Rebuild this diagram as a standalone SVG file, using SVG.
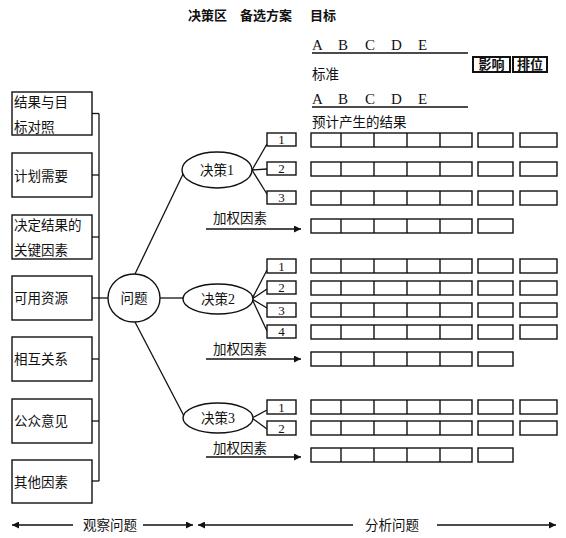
<svg xmlns="http://www.w3.org/2000/svg" width="566" height="538" viewBox="0 0 566 538">
<defs>
<style>
.bx{fill:#fff;stroke:#111;stroke-width:1.4}
.ln{fill:none;stroke:#111;stroke-width:1.3}
.cell{fill:none;stroke:#111;stroke-width:1.4}
.cj{font-family:"Noto Sans CJK SC","Liberation Sans",sans-serif;font-size:13.5px;fill:#111}
.hd{font-family:"Noto Sans CJK SC","Liberation Sans",sans-serif;font-size:13px;font-weight:bold;fill:#111}
.sf{font-family:"Liberation Serif","Noto Sans CJK SC",serif;font-size:14px;fill:#111}
.ab{font-family:"Liberation Serif",serif;font-size:15px;fill:#111}
.num{font-family:"Liberation Serif",serif;font-size:13px;fill:#111;text-anchor:middle}
</style>
<marker id="ah" viewBox="0 0 10 10" refX="10" refY="5" markerWidth="9" markerHeight="7" markerUnits="userSpaceOnUse" orient="auto-start-reverse">
<path d="M0,0 L10,5 L0,10 z" fill="#111"/>
</marker>
<g id="row7">
<rect class="cell" x="311" y="0" width="161" height="14"/>
<line class="cell" x1="341" y1="0" x2="341" y2="14"/>
<line class="cell" x1="374" y1="0" x2="374" y2="14"/>
<line class="cell" x1="407" y1="0" x2="407" y2="14"/>
<line class="cell" x1="440" y1="0" x2="440" y2="14"/>
<rect class="cell" x="478" y="0" width="35" height="14"/>
<rect class="cell" x="520" y="0" width="37" height="14"/>
</g>
<g id="row6">
<rect class="cell" x="311" y="0" width="161" height="14"/>
<line class="cell" x1="341" y1="0" x2="341" y2="14"/>
<line class="cell" x1="374" y1="0" x2="374" y2="14"/>
<line class="cell" x1="407" y1="0" x2="407" y2="14"/>
<line class="cell" x1="440" y1="0" x2="440" y2="14"/>
<rect class="cell" x="478" y="0" width="35" height="14"/>
</g>
</defs>

<g id="header">
<text class="hd" x="188" y="20">决策区</text>
<text class="hd" x="240" y="20">备选方案</text>
<text class="hd" x="310" y="20">目标</text>
<text class="ab" x="312" y="50">A</text>
<text class="ab" x="338" y="50">B</text>
<text class="ab" x="365" y="50">C</text>
<text class="ab" x="391" y="50">D</text>
<text class="ab" x="418" y="50">E</text>
<line class="ln" x1="312" y1="53" x2="468" y2="53" stroke-width="1.6"/>
<text class="cj" x="312" y="79">标准</text>
<text class="ab" x="312" y="104">A</text>
<text class="ab" x="338" y="104">B</text>
<text class="ab" x="365" y="104">C</text>
<text class="ab" x="391" y="104">D</text>
<text class="ab" x="418" y="104">E</text>
<line class="ln" x1="312" y1="107" x2="468" y2="107" stroke-width="1.6"/>
<text class="cj" x="312" y="127">预计产生的结果</text>
<rect x="473" y="57" width="37" height="15" fill="#fff" stroke="#111" stroke-width="2"/>
<text class="hd" x="491.5" y="69" text-anchor="middle">影响</text>
<rect x="513" y="57" width="34" height="15" fill="#fff" stroke="#111" stroke-width="2"/>
<text class="hd" x="530" y="69" text-anchor="middle">排位</text>
</g>

<g id="connectors">
<line class="ln" x1="99" y1="113.5" x2="99" y2="481"/>
<line class="ln" x1="92" y1="113.5" x2="99" y2="113.5"/>
<line class="ln" x1="92" y1="175" x2="99" y2="175"/>
<line class="ln" x1="92" y1="237" x2="99" y2="237"/>
<line class="ln" x1="92" y1="298" x2="108" y2="298"/>
<line class="ln" x1="92" y1="359" x2="99" y2="359"/>
<line class="ln" x1="92" y1="421" x2="99" y2="421"/>
<line class="ln" x1="92" y1="481" x2="99" y2="481"/>
<line class="ln" x1="135" y1="274" x2="185" y2="170"/>
<line class="ln" x1="160" y1="298" x2="183" y2="298"/>
<line class="ln" x1="135" y1="322" x2="185" y2="418"/>
<line class="ln" x1="252" y1="170" x2="267" y2="144"/>
<line class="ln" x1="252" y1="170" x2="267" y2="169"/>
<line class="ln" x1="252" y1="170" x2="267" y2="194"/>
<line class="ln" x1="252" y1="299" x2="267" y2="270"/>
<line class="ln" x1="252" y1="299" x2="267" y2="289"/>
<line class="ln" x1="252" y1="299" x2="267" y2="308"/>
<line class="ln" x1="252" y1="299" x2="267" y2="331"/>
<line class="ln" x1="252" y1="418" x2="267" y2="410"/>
<line class="ln" x1="252" y1="418" x2="267" y2="429"/>
<line class="ln" x1="206" y1="229" x2="301" y2="229" marker-end="url(#ah)"/>
<line class="ln" x1="206" y1="359" x2="301" y2="359" marker-end="url(#ah)"/>
<line class="ln" x1="206" y1="457" x2="301" y2="457" marker-end="url(#ah)"/>
<line class="ln" x1="12" y1="525" x2="73" y2="525" marker-start="url(#ah)"/>
<line class="ln" x1="143" y1="525" x2="193" y2="525" marker-end="url(#ah)"/>
<line class="ln" x1="198" y1="525" x2="353" y2="525" marker-start="url(#ah)"/>
<line class="ln" x1="437" y1="525" x2="556" y2="525" marker-end="url(#ah)"/>
</g>

<g id="factors">
<rect class="bx" x="12" y="92" width="80" height="43"/>
<text class="cj" x="14" y="107">结果与目</text>
<text class="cj" x="14" y="132">标对照</text>
<rect class="bx" x="12" y="153" width="80" height="44"/>
<text class="cj" x="14" y="181">计划需要</text>
<rect class="bx" x="12" y="215" width="80" height="44"/>
<text class="cj" x="14" y="230">决定结果的</text>
<text class="cj" x="14" y="255">关键因素</text>
<rect class="bx" x="12" y="276" width="80" height="44"/>
<text class="cj" x="14" y="303">可用资源</text>
<rect class="bx" x="12" y="337" width="80" height="44"/>
<text class="cj" x="14" y="364">相互关系</text>
<rect class="bx" x="12" y="399" width="80" height="44"/>
<text class="cj" x="14" y="426">公众意见</text>
<rect class="bx" x="12" y="460" width="80" height="43"/>
<text class="cj" x="14" y="487">其他因素</text>
</g>

<g id="problem">
<ellipse class="bx" cx="134" cy="298" rx="26" ry="24"/>
<text class="cj" x="134" y="303" text-anchor="middle">问题</text>
</g>

<g id="decision1">
<ellipse class="bx" cx="217" cy="170" rx="35" ry="18"/>
<text class="sf" x="217" y="175" text-anchor="middle"><tspan font-family="Noto Sans CJK SC, sans-serif" font-size="13.5">决策</tspan>1</text>
<rect class="bx" x="267" y="133" width="29" height="13"/><text class="num" x="281.5" y="144">1</text>
<rect class="bx" x="267" y="162" width="29" height="13"/><text class="num" x="281.5" y="173">2</text>
<rect class="bx" x="267" y="191" width="29" height="13"/><text class="num" x="281.5" y="202">3</text>
<text class="cj" x="213" y="223">加权因素</text>
<use href="#row7" y="133"/>
<use href="#row7" y="162"/>
<use href="#row7" y="191"/>
<use href="#row6" y="219"/>
</g>

<g id="decision2">
<ellipse class="bx" cx="218" cy="299" rx="35" ry="15"/>
<text class="sf" x="218" y="304" text-anchor="middle"><tspan font-family="Noto Sans CJK SC, sans-serif" font-size="13.5">决策</tspan>2</text>
<rect class="bx" x="267" y="259" width="29" height="14"/><text class="num" x="281.5" y="271">1</text>
<rect class="bx" x="267" y="281" width="29" height="13"/><text class="num" x="281.5" y="292">2</text>
<rect class="bx" x="267" y="303" width="29" height="14"/><text class="num" x="281.5" y="315">3</text>
<rect class="bx" x="267" y="325" width="29" height="13"/><text class="num" x="281.5" y="336">4</text>
<text class="cj" x="213" y="354">加权因素</text>
<use href="#row7" y="259"/>
<use href="#row7" y="281"/>
<use href="#row7" y="303"/>
<use href="#row7" y="325"/>
<use href="#row6" y="352"/>
</g>

<g id="decision3">
<ellipse class="bx" cx="218" cy="418" rx="35" ry="15"/>
<text class="sf" x="218" y="423" text-anchor="middle"><tspan font-family="Noto Sans CJK SC, sans-serif" font-size="13.5">决策</tspan>3</text>
<rect class="bx" x="267" y="400" width="29" height="14"/><text class="num" x="281.5" y="412">1</text>
<rect class="bx" x="267" y="421" width="29" height="14"/><text class="num" x="281.5" y="433">2</text>
<text class="cj" x="213" y="453">加权因素</text>
<use href="#row7" y="400"/>
<use href="#row7" y="421"/>
<use href="#row6" y="448"/>
</g>

<g id="footer">
<text class="cj" x="110" y="530" text-anchor="middle">观察问题</text>
<text class="cj" x="392" y="530" text-anchor="middle" font-size="14">分析问题</text>
</g>
</svg>
